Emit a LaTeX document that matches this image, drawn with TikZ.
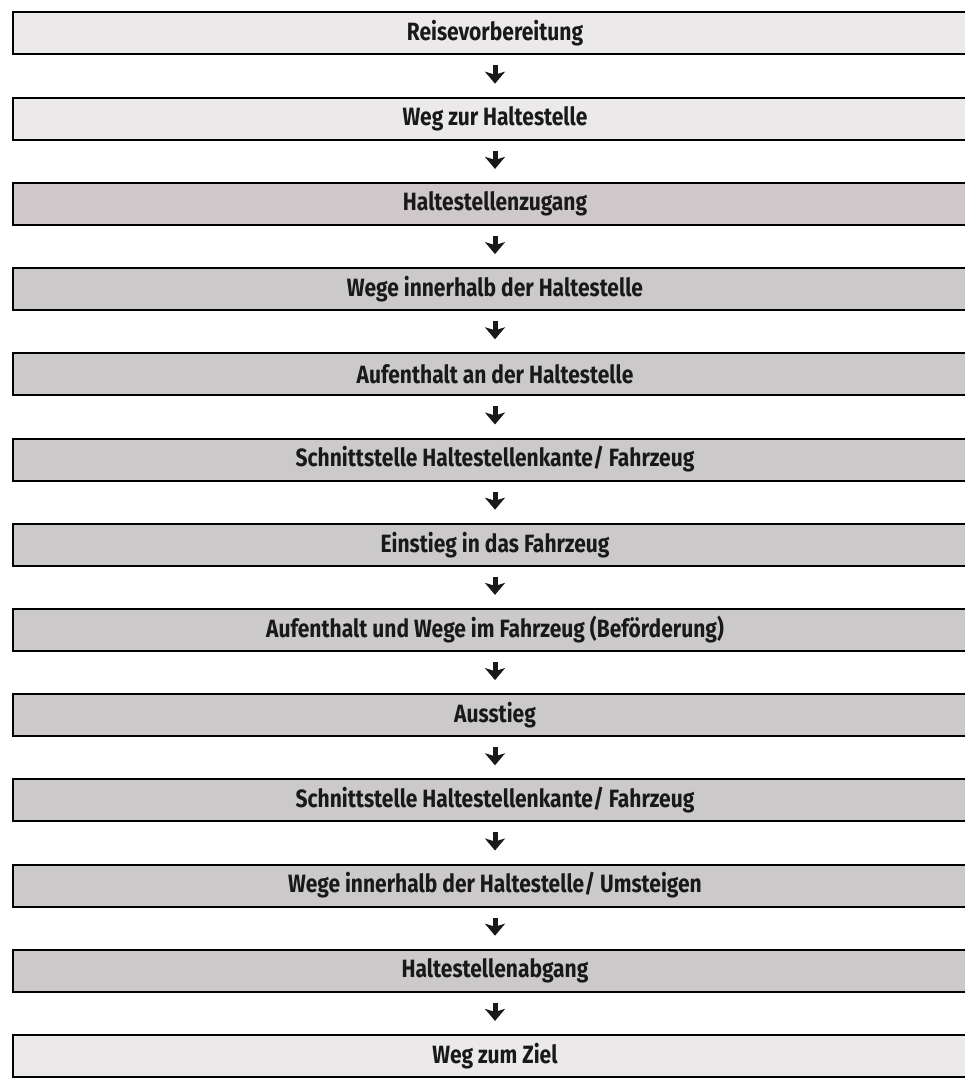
\documentclass[tikz,border=0pt]{standalone}
\usepackage{fontspec}
\setmainfont{Fira Sans}[FakeStretch=0.84]
\usetikzlibrary{arrows.meta}
\definecolor{lightbox}{HTML}{EBE9EA}
\definecolor{darkbox}{HTML}{CBC9CA}
\definecolor{pinkbox}{HTML}{CFC8CB}
\begin{document}
\begin{tikzpicture}[x=1pt,y=-1pt,
  stepbox/.style={draw=black, line width=2pt, minimum width=964pt, minimum height=42pt,
    inner sep=0pt, font=\bfseries\fontsize{25}{28}\selectfont, text=black!90},
  light/.style={stepbox, fill=lightbox},
  dark/.style={stepbox, fill=darkbox},
  flow/.style={line width=5pt, draw=black!90, -{Stealth[width=20pt,length=12pt,inset=3pt]}, shorten <=10pt, shorten >=13pt}
]
\useasboundingbox (0,0) rectangle (965,1078);
\node[light] (b1)  at (495,33.5)   {Reisevorbereitung};
\node[light] (b2)  at (495,118.7)  {Weg zur Haltestelle};
\node[stepbox, fill=pinkbox] (b3)  at (495,203.9)  {Haltestellenzugang};
\node[dark]  (b4)  at (495,289.1)  {Wege innerhalb der Haltestelle};
\node[dark]  (b5)  at (495,374.3)  {Aufenthalt an der Haltestelle};
\node[dark]  (b6)  at (495,459.5)  {Schnittstelle Haltestellenkante/ Fahrzeug};
\node[dark]  (b7)  at (495,544.7)  {Einstieg in das Fahrzeug};
\node[dark]  (b8)  at (495,629.9)  {Aufenthalt und Wege im Fahrzeug (Beförderung)};
\node[dark]  (b9)  at (495,715.1)  {Ausstieg};
\node[dark]  (b10) at (495,800.3)  {Schnittstelle Haltestellenkante/ Fahrzeug};
\node[dark]  (b11) at (495,885.5)  {Wege innerhalb der Haltestelle/ Umsteigen};
\node[dark]  (b12) at (495,970.7)  {Haltestellenabgang};
\node[light] (b13) at (495,1055.9) {Weg zum Ziel};
\foreach \a/\b in {b1/b2,b2/b3,b3/b4,b4/b5,b5/b6,b6/b7,b7/b8,b8/b9,b9/b10,b10/b11,b11/b12,b12/b13}
  \draw[flow] (\a) -- (\b);
\end{tikzpicture}
\end{document}
